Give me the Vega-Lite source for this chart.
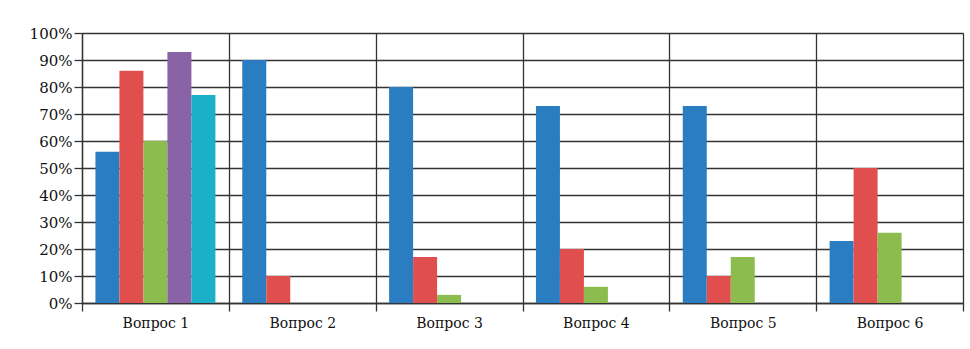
{
  "$schema": "https://vega.github.io/schema/vega-lite/v6.json",
  "width": 881,
  "height": 270,
  "autosize": "none",
  "padding": {"left": 82, "top": 33, "right": 7, "bottom": 46},
  "background": "white",
  "config": {
    "view": {"stroke": "#b0b0b0", "strokeWidth": 1},
    "font": "DejaVu Serif"
  },
  "data": {
    "values": [
      {"q": "Вопрос 1", "s": "Ряд 1", "v": 56},
      {"q": "Вопрос 1", "s": "Ряд 2", "v": 86},
      {"q": "Вопрос 1", "s": "Ряд 3", "v": 60},
      {"q": "Вопрос 1", "s": "Ряд 4", "v": 93},
      {"q": "Вопрос 1", "s": "Ряд 5", "v": 77},
      {"q": "Вопрос 2", "s": "Ряд 1", "v": 90},
      {"q": "Вопрос 2", "s": "Ряд 2", "v": 10},
      {"q": "Вопрос 3", "s": "Ряд 1", "v": 80},
      {"q": "Вопрос 3", "s": "Ряд 2", "v": 17},
      {"q": "Вопрос 3", "s": "Ряд 3", "v": 3},
      {"q": "Вопрос 4", "s": "Ряд 1", "v": 73},
      {"q": "Вопрос 4", "s": "Ряд 2", "v": 20},
      {"q": "Вопрос 4", "s": "Ряд 3", "v": 6},
      {"q": "Вопрос 5", "s": "Ряд 1", "v": 73},
      {"q": "Вопрос 5", "s": "Ряд 2", "v": 10},
      {"q": "Вопрос 5", "s": "Ряд 3", "v": 17},
      {"q": "Вопрос 6", "s": "Ряд 1", "v": 23},
      {"q": "Вопрос 6", "s": "Ряд 2", "v": 50},
      {"q": "Вопрос 6", "s": "Ряд 3", "v": 26}
    ]
  },
  "mark": {"type": "bar"},
  "encoding": {
    "x": {
      "field": "q",
      "type": "nominal",
      "title": null,
      "scale": {"paddingInner": 0, "paddingOuter": 0},
      "axis": {
        "labelAngle": 0,
        "labelFont": "DejaVu Serif",
        "labelFontSize": 14,
        "labelColor": "#111",
        "tickBand": "extent",
        "grid": true,
        "gridColor": "#333",
        "gridWidth": 1.3,
        "tickColor": "#333",
        "tickWidth": 1.3,
        "tickSize": 8,
        "domainColor": "#333",
        "domainWidth": 1.3,
        "labelPadding": 5
      }
    },
    "xOffset": {
      "field": "s",
      "type": "nominal",
      "scale": {"domain": ["Ряд 1", "Ряд 2", "Ряд 3", "Ряд 4", "Ряд 5"], "paddingInner": 0, "paddingOuter": 0.56}
    },
    "y": {
      "field": "v",
      "type": "quantitative",
      "title": null,
      "scale": {"domain": [0, 100], "nice": false},
      "axis": {
        "values": [0, 10, 20, 30, 40, 50, 60, 70, 80, 90, 100],
        "labelExpr": "datum.value + '%'",
        "labelFont": "DejaVu Serif",
        "labelFontSize": 15,
        "labelColor": "#111",
        "grid": true,
        "gridColor": "#333",
        "gridWidth": 1.3,
        "tickColor": "#333",
        "tickWidth": 1.3,
        "tickSize": 8,
        "domainColor": "#333",
        "domainWidth": 1.3,
        "labelPadding": 2
      }
    },
    "color": {
      "field": "s",
      "type": "nominal",
      "legend": null,
      "scale": {
        "domain": ["Ряд 1", "Ряд 2", "Ряд 3", "Ряд 4", "Ряд 5"],
        "range": ["#2A7DC1", "#E04F4E", "#8CBB4E", "#8963A6", "#1BAFC8"]
      }
    }
  }
}
